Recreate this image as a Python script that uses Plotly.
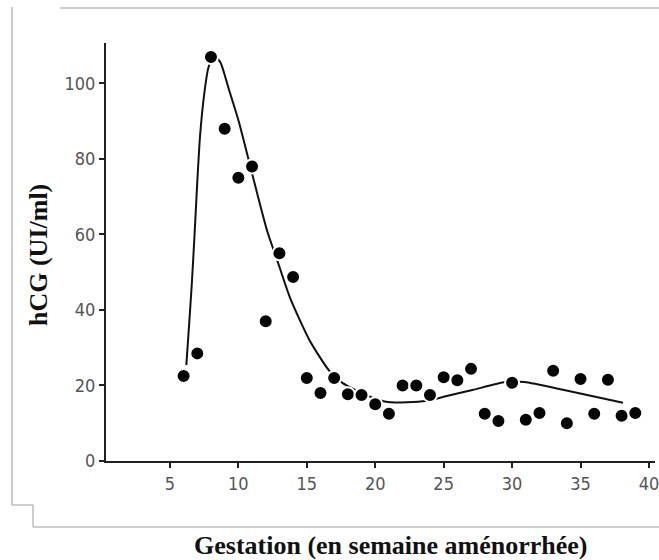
import plotly.graph_objects as go

weeks = list(range(6, 40))
hcg = [22.5, 28.5, 107, 88, 75, 78, 37, 55, 48.7, 22, 18, 22, 17.7, 17.5, 15,
       12.5, 20, 20, 17.5, 22.2, 21.4, 24.4, 12.5, 10.6, 20.7, 10.9, 12.7, 23.9,
       10, 21.7, 12.5, 21.5, 12, 12.7]

fit_weeks = [6.2, 6.4, 6.6, 6.8, 7.0, 7.2, 7.5, 7.8, 8.2, 8.7, 9.3, 10.0, 10.7, 11.4,
             12.1, 12.9, 13.8, 15.2, 16.6, 17.6, 19.3, 20.9, 23.7, 25.0, 27.1,
             29.5, 30.9, 33.8, 38.1]
fit_hcg = [25.4, 36, 47, 60, 74, 86, 97, 104, 107.5, 105.5, 98.5, 90.3, 80.5, 70.5,
           61, 52.5, 43, 32, 24.1, 20.7, 17.5, 15.6, 15.9, 17, 18.8,
           20.9, 20.9, 18.8, 15.4]

x_ticks = [5, 10, 15, 20, 25, 30, 35, 40]
y_ticks = [0, 20, 40, 60, 80, 100]

x_title = "Gestation (en semaine aménorrhée)"
y_title = "hCG (UI/ml)"

# plot area in page pixels: left 106, right 655, top 43, bottom 461
L, R, T, B = 106, 655, 43, 461
W, H = R - L, B - T


def px(x):
    return (x - L) / W


def py(y):
    return (B - y) / H


fig = go.Figure()
fig.add_trace(go.Scatter(x=fit_weeks, y=fit_hcg, mode="lines",
                         line=dict(color="#111", width=2, shape="spline", smoothing=0.6),
                         hoverinfo="skip", showlegend=False))
fig.add_trace(go.Scatter(x=weeks, y=hcg, mode="markers",
                         marker=dict(color="#050505", size=14,
                                     line=dict(color="white", width=2)),
                         showlegend=False))

# scan page-border lines
border = dict(color="#bdbdbd", width=1.5)
segs = [((60, 8), (659, 8)), ((12, 7), (12, 505)), ((12, 505), (33, 505)),
        ((33, 505), (33, 527)), ((33, 527), (659, 527))]
for (xa, ya), (xb, yb) in segs:
    fig.add_shape(type="line", xref="paper", yref="paper",
                  x0=px(xa), x1=px(xb), y0=py(ya), y1=py(yb), line=border)

fig.add_annotation(text="<b>" + x_title + "</b>", xref="paper", yref="paper",
                   x=px(391), y=py(545), xanchor="center", yanchor="middle",
                   showarrow=False,
                   font=dict(family="Liberation Serif", size=26, color="#111"))
fig.add_annotation(text="<b>" + y_title + "</b>", xref="paper", yref="paper",
                   x=px(38), y=py(255), xanchor="center", yanchor="middle",
                   textangle=-90, showarrow=False,
                   font=dict(family="Liberation Serif", size=26, color="#111"))

tickfont = dict(family="DejaVu Sans Condensed", size=18, color="#555")
fig.update_layout(
    width=659, height=560,
    margin=dict(l=L, r=659 - R, t=T, b=560 - B, autoexpand=False),
    paper_bgcolor="white", plot_bgcolor="white",
    xaxis=dict(range=[0.33, 40.44], tickvals=x_ticks, ticktext=[str(v) for v in x_ticks],
               automargin=False, ticklabeloverflow="allow",
               showgrid=False, zeroline=False, showline=True, linecolor="#222", linewidth=2,
               ticks="outside", ticklen=5, tickcolor="#222", tickwidth=1.5,
               tickfont=tickfont),
    yaxis=dict(range=[0, 110.7], tickvals=y_ticks, automargin=False,
               ticklabeloverflow="allow",
               showgrid=False, zeroline=False, showline=True, linecolor="#222", linewidth=2,
               ticks="outside", ticklen=5, tickcolor="#222", tickwidth=1.5,
               tickfont=tickfont),
)

fig.write_html("out.html", config={"displayModeBar": False},
               post_script="document.body.style.margin='0px';")
